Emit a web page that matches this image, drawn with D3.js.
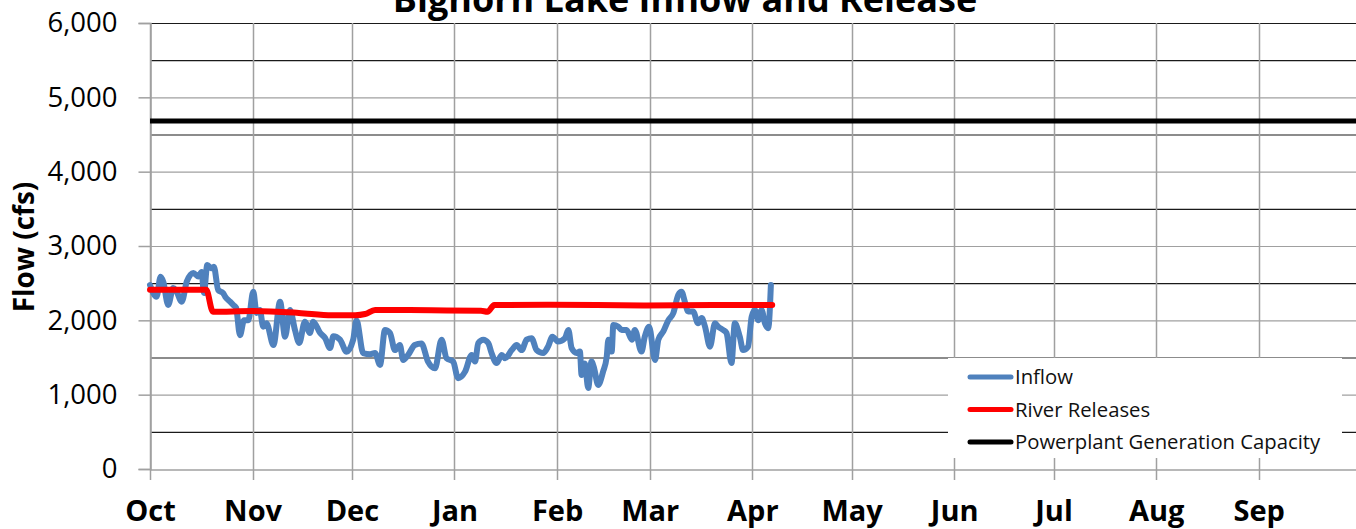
<!DOCTYPE html>
<html>
<head>
<meta charset="utf-8">
<script src="https://cdn.jsdelivr.net/npm/d3@7"></script>
<style>
  body { margin: 0; background: #fff; }
  svg { display: block; font-family: "Open Sans", sans-serif; }
</style>
</head>
<body>
<script>
// water year starts Oct 1
var startDate = new Date(2013, 9, 1);
var endDate = new Date(2014, 9, 1);

var monthLabels = ["Oct", "Nov", "Dec", "Jan", "Feb", "Mar", "Apr", "May", "Jun", "Jul", "Aug", "Sep"];
var yTicks = [0, 1000, 2000, 3000, 4000, 5000, 6000];

// inflow, days after Oct 1 and cfs
var inflowDays = [0, 2, 3.2, 4, 5.5, 7, 7.9, 9.6, 11.1, 13.1, 14.6, 15.6, 16.3, 17.3, 18.6, 19.3, 20.6, 22.1, 22.7, 24.2,
  25.2, 26, 27.2, 28.4, 29.7, 31.2, 32.2, 33.2, 34.2, 35.2, 37.3, 39.3, 40.8, 42.3, 43.8, 45.1, 46.8, 48.3, 49.3, 51.4,
  52.9, 54.4, 55.4, 57.4, 59.4, 61.4, 62.4, 64.4, 66.5, 68, 69.5, 71, 72.5, 74, 75.5, 76.5, 78, 80, 82, 84,
  86.1, 88.1, 89.6, 91.6, 93.1, 95.2, 97.2, 98.2, 99.2, 100.7, 102.2, 103.2, 104.7, 106.3, 107.3, 109.3, 110.8, 112.3, 113.8, 115.3,
  116.8, 118.8, 120.3, 121.6, 123.3, 125.4, 126.4, 127.4, 128.9, 129.9, 130.4, 131.4, 132.4, 133.4, 134.2, 135.4, 136.9, 138, 138.5, 139.5,
  140, 141.5, 142.5, 144, 145.6, 146.5, 148.5, 149.5, 150.8, 152.6, 153.6, 155.1, 156.6, 158.1, 159.6, 160.6, 161.6, 162.6, 164.1, 165.6,
  166.7, 167.7, 169.2, 170.7, 171.7, 173.2, 174.2, 175.7, 176.7, 178.2, 179.2, 180.7, 181.8, 182.8, 183.8, 184.8, 185.8, 186.8, 187.6];
var inflowValues = [2475, 2318, 2587, 2520, 2206, 2435, 2400, 2251, 2520, 2637, 2590, 2650, 2367, 2745, 2700, 2720, 2408, 2367, 2320, 2251,
  2206, 2170, 1800, 2000, 2000, 2386, 2100, 2140, 1915, 1960, 1668, 2251, 1780, 2140, 1870, 1695, 1982, 1830, 1982, 1830,
  1762, 1628, 1785, 1740, 1578, 1740, 2000, 1560, 1545, 1560, 1400, 1870, 1830, 1600, 1668, 1466, 1535, 1668, 1690, 1444,
  1355, 1740, 1490, 1444, 1222, 1310, 1535, 1445, 1695, 1740, 1695, 1560, 1425, 1535, 1490, 1600, 1668, 1600, 1740, 1760,
  1600, 1560, 1650, 1780, 1715, 1762, 1870, 1625, 1560, 1580, 1265, 1420, 1090, 1445, 1355, 1130, 1310, 1510, 1740, 1580,
  1937, 1915, 1870, 1870, 1740, 1870, 1580, 1780, 1915, 1466, 1740, 1850, 2000, 2095, 2340, 2386, 2250, 2120, 2120, 1960,
  2030, 1915, 1645, 1960, 1915, 1870, 1830, 1425, 1960, 1780, 1600, 1645, 2050, 2140, 2000, 2140, 1960, 1893, 2475];

// river releases
var releaseDays = [0, 17, 19, 31, 45, 55, 62, 65, 68, 85, 100, 102, 104, 120, 150, 170, 188];
var releaseValues = [2410, 2410, 2116, 2125, 2100, 2070, 2070, 2085, 2140, 2135, 2130, 2115, 2205, 2210, 2200, 2205, 2205];

// powerplant generation capacity
var capacityValue = 4680;

var seriesNames = ["Inflow", "River Releases", "Powerplant Generation Capacity"];
var seriesColors = ["#4F81BD", "#FF0000", "#000000"];

var width = 1356, height = 529;
var margin = { left: 150, top: 23, right: -2, bottom: 60 };

var svg = d3.select("body").append("svg")
    .attr("width", width)
    .attr("height", height);

var x = d3.scaleTime()
    .domain([startDate, endDate])
    .range([margin.left, width - margin.right]);

var y = d3.scaleLinear()
    .domain([0, 6000])
    .range([height - margin.bottom, margin.top]);

function dayToDate(d) { return new Date(startDate.getTime() + d * 864e5); }

var months = d3.timeMonth.range(startDate, endDate);

// horizontal gridlines (half steps are drawn darker)
var halfTicks = d3.range(500, 6001, 500);
svg.append("g").selectAll("line")
    .data(halfTicks)
    .enter().append("line")
    .attr("x1", margin.left).attr("x2", width)
    .attr("y1", function(d) { return y(d) + 0.5; })
    .attr("y2", function(d) { return y(d) + 0.5; })
    .attr("stroke", function(d) { return (d % 1000 === 0 && d < 6000) ? "#a0a0a0" : "#1a1a1a"; })
    .attr("stroke-width", 1.2);

// vertical gridlines at month starts
svg.append("g").selectAll("line")
    .data(months)
    .enter().append("line")
    .attr("x1", function(d) { return Math.round(x(d)) + 0.5; })
    .attr("x2", function(d) { return Math.round(x(d)) + 0.5; })
    .attr("y1", margin.top)
    .attr("y2", y(0) + 11)
    .attr("stroke", "#a0a0a0")
    .attr("stroke-width", 1.5);

// y axis
var yAxis = svg.append("g")
    .attr("transform", "translate(" + (margin.left + 0.5) + ",0)")
    .call(d3.axisLeft(y).tickValues(yTicks).tickSize(12).tickPadding(21).tickFormat(d3.format(",")));
yAxis.select(".domain").attr("stroke", "#a0a0a0").attr("stroke-width", 1.5);
yAxis.selectAll(".tick line").attr("stroke", "#a0a0a0").attr("stroke-width", 1.5);
yAxis.selectAll(".tick text")
    .attr("fill", "#000")
    .style("font-size", "27.5px")
    .style("font-family", "'Open Sans', sans-serif");

// x axis
var xAxis = svg.append("g")
    .attr("transform", "translate(0," + (y(0) + 0.5) + ")")
    .call(d3.axisBottom(x).tickValues(months).tickSize(0).tickPadding(31)
      .tickFormat(function(d, i) { return monthLabels[i]; }));
xAxis.select(".domain").attr("stroke", "#a0a0a0").attr("stroke-width", 1.5);
xAxis.selectAll(".tick text")
    .attr("fill", "#000")
    .style("font-size", "29px")
    .style("font-weight", "bold")
    .style("font-family", "'Open Sans', sans-serif");

// lines
var line = d3.line()
    .x(function(d) { return x(d[0]); })
    .y(function(d) { return y(d[1]); })
    .curve(d3.curveMonotoneX);

svg.append("path")
    .datum([[startDate, capacityValue], [endDate, capacityValue]])
    .attr("d", line)
    .attr("fill", "none")
    .attr("stroke", seriesColors[2])
    .attr("stroke-width", 5);

svg.append("path")
    .datum(inflowDays.map(function(d, i) { return [dayToDate(d), inflowValues[i]]; }))
    .attr("d", line)
    .attr("fill", "none")
    .attr("stroke", seriesColors[0])
    .attr("stroke-width", 6)
    .attr("stroke-linejoin", "round")
    .attr("stroke-linecap", "round");

svg.append("path")
    .datum(releaseDays.map(function(d, i) { return [dayToDate(d), releaseValues[i]]; }))
    .attr("d", line)
    .attr("fill", "none")
    .attr("stroke", seriesColors[1])
    .attr("stroke-width", 6)
    .attr("stroke-linejoin", "round")
    .attr("stroke-linecap", "round");

// legend
var legend = svg.append("g");
legend.append("rect")
    .attr("x", 948).attr("y", 358)
    .attr("width", 394).attr("height", 100)
    .attr("fill", "#fff");

var rows = legend.selectAll("g.row")
    .data(seriesNames)
    .enter().append("g")
    .attr("class", "row")
    .attr("transform", function(d, i) { return "translate(0," + (377 + i * 32.5) + ")"; });
rows.append("line")
    .attr("x1", 970).attr("x2", 1011)
    .attr("stroke", function(d, i) { return seriesColors[i]; })
    .attr("stroke-width", 5)
    .attr("stroke-linecap", "round");
rows.append("text")
    .attr("x", 1015)
    .attr("dy", "0.35em")
    .style("font-size", "20.3px")
    .attr("fill", "#111")
    .text(function(d) { return d; });

// title (partly cut off at the top, as in the source)
svg.append("text")
    .attr("x", 685)
    .attr("y", 12)
    .attr("text-anchor", "middle")
    .style("font-size", "36px")
    .style("font-weight", "bold")
    .text("Bighorn Lake Inflow and Release");

// axis title
svg.append("text")
    .attr("transform", "translate(34,247) rotate(-90)")
    .attr("text-anchor", "middle")
    .style("font-size", "28px")
    .style("font-weight", "bold")
    .text("Flow (cfs)");
</script>
</body>
</html>
